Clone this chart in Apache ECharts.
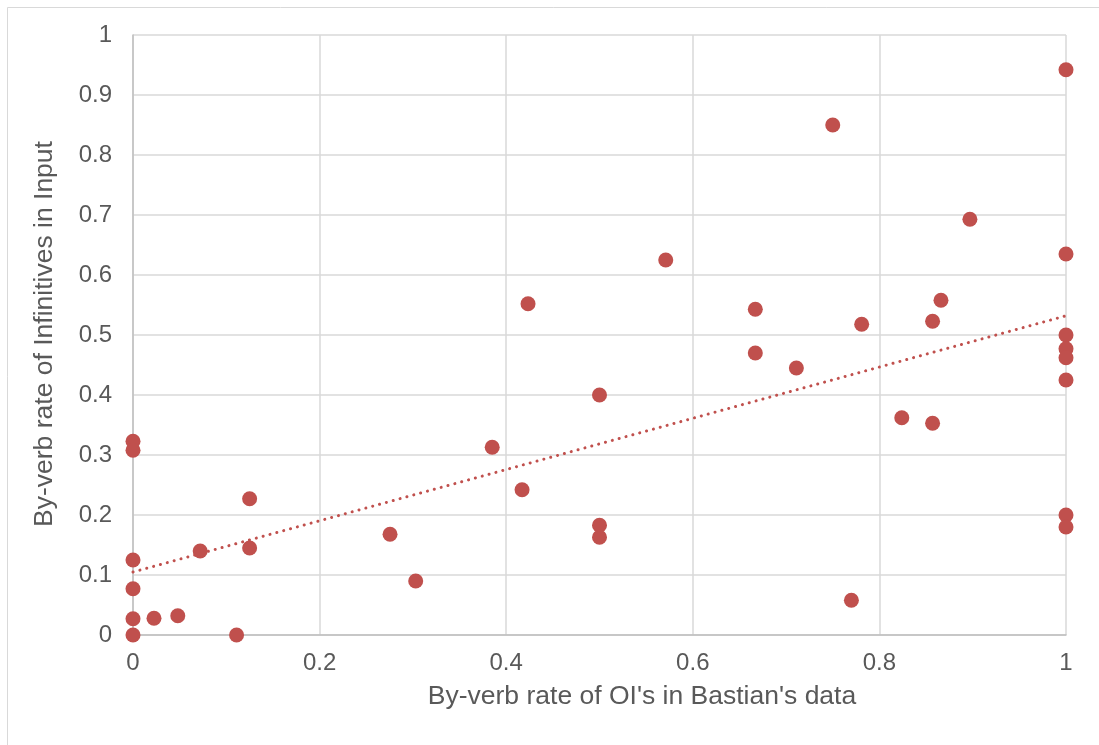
<!DOCTYPE html>
<html>
<head>
<meta charset="utf-8">
<script src="https://cdn.jsdelivr.net/npm/echarts@6/dist/echarts.min.js"></script>
<style>
  html, body { margin: 0; padding: 0; background: #ffffff; }
  #chart { width: 1099px; height: 745px; }
</style>
</head>
<body>
<div id="chart"></div>
<script>
// By-verb OI rate (x) against by-verb infinitive rate in input (y)
const oiRate = [
  0, 0, 0.0225, 0.048, 0, 0, 0.072, 0.125, 0.125, 0.111,
  0, 0, 0.2755, 0.303, 0.385, 0.4234, 0.417, 0.5, 0.5, 0.5,
  0.571, 0.667, 0.667, 0.711, 0.75, 0.781, 0.897, 0.866, 0.857, 0.824,
  0.857, 0.77, 1, 1, 1, 1, 1, 1, 1, 1
];
const infRate = [
  0, 0.027, 0.028, 0.032, 0.077, 0.125, 0.14, 0.227, 0.145, 0,
  0.323, 0.308, 0.168, 0.09, 0.313, 0.552, 0.242, 0.4, 0.183, 0.163,
  0.625, 0.543, 0.47, 0.445, 0.85, 0.518, 0.693, 0.558, 0.523, 0.362,
  0.353, 0.058, 0.942, 0.635, 0.5, 0.477, 0.462, 0.425, 0.2, 0.18
];
// Linear trendline end points
const trendX = [0, 1];
const trendY = [0.105, 0.532];

const axisTicks = ['0', '0.1', '0.2', '0.3', '0.4', '0.5', '0.6', '0.7', '0.8', '0.9', '1'];

const red = '#C0504D';
const textColor = '#595959';
const font = 'Liberation Sans, Arial, sans-serif';

const points = oiRate.map((x, i) => [x, infRate[i]]);
const trend = trendX.map((x, i) => [x, trendY[i]]);

const chart = echarts.init(document.getElementById('chart'));
chart.setOption({
  backgroundColor: '#ffffff',
  animation: false,
  graphic: [
    {
      type: 'rect',
      shape: { x: 7.5, y: 7.5, width: 1200, height: 800 },
      style: { fill: 'none', stroke: '#D9D9D9', lineWidth: 1 },
      silent: true,
      z: -10
    },
    {
      type: 'text',
      x: 642, y: 697,
      style: {
        text: "By-verb rate of OI's in Bastian's data",
        fill: textColor, font: '26.5px ' + font,
        align: 'center', verticalAlign: 'middle'
      }
    },
    {
      type: 'text',
      x: 45, y: 334,
      rotation: Math.PI / 2,
      style: {
        text: 'By-verb rate of Infinitives in Input',
        fill: textColor, font: '26.5px ' + font,
        align: 'center', verticalAlign: 'middle'
      }
    }
  ],
  grid: { left: 133, right: 33, top: 35, bottom: 110, containLabel: false },
  xAxis: {
    type: 'value', min: 0, max: 1, interval: 0.2,
    axisLine: { show: true, onZero: false, lineStyle: { color: '#BFBFBF', width: 1.5 } },
    axisTick: { show: false },
    splitLine: { show: true, lineStyle: { color: '#D9D9D9', width: 1.5 } },
    axisLabel: {
      color: textColor, fontSize: 24, fontFamily: font, margin: 16,
      formatter: v => axisTicks[Math.round(v * 10)]
    }
  },
  yAxis: {
    type: 'value', min: 0, max: 1, interval: 0.1,
    axisLine: { show: true, onZero: false, lineStyle: { color: '#BFBFBF', width: 1.5 } },
    axisTick: { show: false },
    splitLine: { show: true, lineStyle: { color: '#D9D9D9', width: 1.5 } },
    axisLabel: {
      color: textColor, fontSize: 24, fontFamily: font, margin: 21,
      formatter: v => axisTicks[Math.round(v * 10)]
    }
  },
  series: [
    {
      type: 'line',
      data: trend,
      symbol: 'none',
      lineStyle: { color: red, width: 3, type: [0.1, 7], cap: 'round' },
      z: 2
    },
    {
      type: 'scatter',
      data: points,
      symbolSize: 15,
      itemStyle: { color: red, opacity: 1 },
      z: 3
    }
  ]
});
</script>
</body>
</html>
